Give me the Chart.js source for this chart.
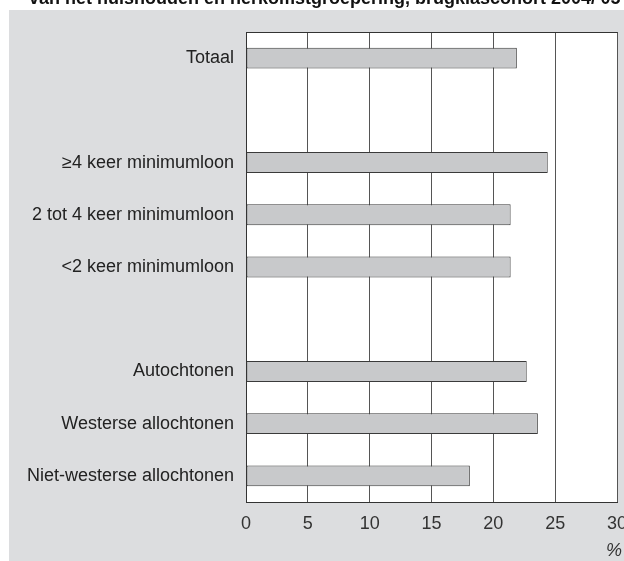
<!DOCTYPE html>
<html>
<head>
<meta charset="utf-8">
<script src="https://cdn.jsdelivr.net/npm/chart.js@4/dist/chart.umd.min.js"></script>
<style>
  html, body { margin: 0; padding: 0; background: #ffffff; overflow: hidden; }
  #wrap { position: relative; width: 624px; height: 561px; overflow: hidden; }
  #title { position: absolute; left: 29px; top: -11px; white-space: nowrap;
           font: bold 18px "Liberation Sans", Arial, sans-serif; line-height: 1; color: #111; }
  #unit { position: absolute; right: 2px; top: 541px;
          font: italic 18px "Liberation Sans", Arial, sans-serif; line-height: 1; color: #333; }
  canvas { position: absolute; left: 0; top: 0; }
</style>
</head>
<body>
<div id="wrap">
  <canvas id="c" width="624" height="561"></canvas>
  <div id="title">van het huishouden en herkomstgroepering, brugklascohort 2004/'05</div>
  <div id="unit"></div>
</div>
<script>
const categories = [
  "Totaal",
  "",
  "\u22654 keer minimumloon",
  "2 tot 4 keer minimumloon",
  "<2 keer minimumloon",
  "",
  "Autochtonen",
  "Westerse allochtonen",
  "Niet-westerse allochtonen"
];
const values = [21.9, null, 24.4, 21.4, 21.4, null, 22.7, 23.6, 18.1];
const xTicks = [0, 5, 10, 15, 20, 25, 30];
const unitLabel = "%";

document.getElementById('unit').textContent = unitLabel;

const FONT = "'Liberation Sans', Arial, sans-serif";

const bgPlugin = {
  id: 'bg',
  beforeDraw(chart) {
    const ctx = chart.ctx;
    ctx.save();
    ctx.fillStyle = '#dcdddf';
    ctx.fillRect(9, 10, chart.width - 9, chart.height - 10);
    const a = chart.chartArea;
    ctx.fillStyle = '#ffffff';
    ctx.fillRect(a.left, a.top, a.right - a.left, a.bottom - a.top);
    ctx.restore();
  },
  afterDraw(chart) {
    const ctx = chart.ctx;
    const a = chart.chartArea;
    ctx.save();
    ctx.strokeStyle = '#333333';
    ctx.lineWidth = 1;
    ctx.beginPath();
    ctx.moveTo(Math.round(a.left) + 0.5, Math.round(a.top) + 0.5);
    ctx.lineTo(Math.round(a.right) + 0.5, Math.round(a.top) + 0.5);
    ctx.stroke();
    ctx.restore();
  }
};

new Chart(document.getElementById('c'), {
  type: 'bar',
  data: {
    labels: categories,
    datasets: [{
      data: values,
      backgroundColor: '#c8c9cb',
      borderColor: '#3a3a3a',
      borderWidth: 1,
      borderSkipped: false,
      barPercentage: 0.4,
      categoryPercentage: 1.0
    }]
  },
  plugins: [bgPlugin],
  options: {
    indexAxis: 'y',
    responsive: false,
    animation: false,
    layout: { padding: { top: 32, right: 7, bottom: 0, left: 0 } },
    plugins: { legend: { display: false }, tooltip: { enabled: false } },
    scales: {
      x: {
        type: 'linear',
        min: 0, max: 30,
        afterBuildTicks(scale) { scale.ticks = xTicks.map(v => ({ value: v })); },
        afterFit(scale) { scale.height = 59; scale.paddingRight = 0; scale.paddingLeft = 0; },
        grid: { color: '#555555', lineWidth: 1, drawTicks: false },
        border: { color: '#333333', width: 1 },
        ticks: { padding: 11, color: '#333333', font: { family: FONT, size: 18 }, maxRotation: 0, autoSkip: false }
      },
      y: {
        afterFit(scale) { scale.width = 246; },
        grid: { display: false, drawTicks: false },
        border: { display: true, color: '#333333', width: 1 },
        ticks: { padding: 12, color: '#222222', font: { family: FONT, size: 18 }, autoSkip: false }
      }
    }
  }
});
</script>
</body>
</html>
